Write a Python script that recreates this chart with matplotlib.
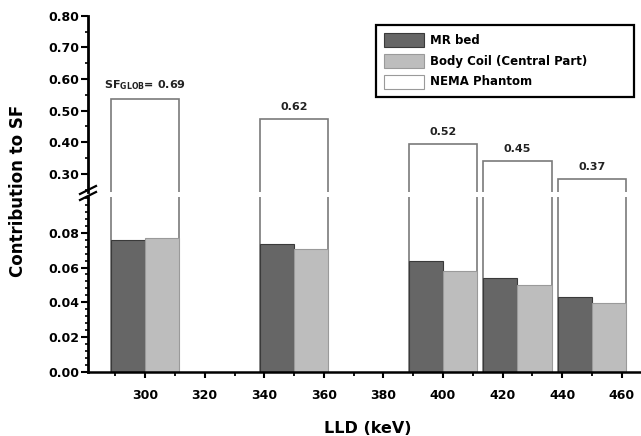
import numpy as np
import matplotlib
matplotlib.use("Agg")
import matplotlib.pyplot as plt
from matplotlib.patches import Patch
from matplotlib.lines import Line2D
from matplotlib.ticker import MultipleLocator, AutoMinorLocator

# data
lld = [300, 350, 400, 425, 450]
mr_bed = [0.0758, 0.0733, 0.0638, 0.0540, 0.0431]
body_coil = [0.0768, 0.0705, 0.0580, 0.0498, 0.0396]
nema = [0.538, 0.474, 0.394, 0.340, 0.284]
sf_glob = ["0.69", "0.62", "0.52", "0.45", "0.37"]
xticks = [300, 320, 340, 360, 380, 400, 420, 440, 460]

dark = "#666666"
light = "#bdbdbd"
edge = "#7a7a7a"

plt.rcParams['font.family'] = 'DejaVu Sans'
plt.rcParams['font.weight'] = 'bold'
plt.rcParams['mathtext.default'] = 'regular'

W, H = 641, 436
fig = plt.figure(figsize=(W / 100, H / 100), dpi=100)

def px(x0, y0, x1, y1):
    return [x0 / W, 1 - y1 / H, (x1 - x0) / W, (y1 - y0) / H]

ax_top = fig.add_axes(px(88, 15.7, 641, 192))
ax_bot = fig.add_axes(px(88, 197, 641, 372))

bw = 11.5
x = np.array(lld, dtype=float)
for ax in (ax_top, ax_bot):
    ax.bar(x, nema, width=2 * bw, color="white", edgecolor=edge, linewidth=1.2, zorder=1)
    ax.bar(x - bw / 2, mr_bed, width=bw, color=dark, edgecolor="#3a3a3a", linewidth=0.8, zorder=2)
    ax.bar(x + bw / 2, body_coil, width=bw, color=light, edgecolor="#9a9a9a", linewidth=0.8, zorder=2)
    ax.set_xlim(280.8, 466.5)
    for s in ("top", "right"):
        ax.spines[s].set_visible(False)
    ax.spines["left"].set_linewidth(2.0)

ax_top.set_ylim(0.243, 0.80)
ax_bot.set_ylim(0, 0.1005)

ax_top.spines["bottom"].set_visible(False)
ax_top.set_xticks([])
ax_top.yaxis.set_minor_locator(AutoMinorLocator(2))
ax_top.set_yticks([0.3, 0.4, 0.5, 0.6, 0.7, 0.8])
ax_top.set_yticklabels(["%.2f" % v for v in [0.3, 0.4, 0.5, 0.6, 0.7, 0.8]])

ax_bot.set_yticks([0, 0.02, 0.04, 0.06, 0.08])
ax_bot.set_yticklabels(["%.2f" % v for v in [0, 0.02, 0.04, 0.06, 0.08]])
ax_bot.yaxis.set_minor_locator(AutoMinorLocator(5))
ax_bot.set_xticks(xticks)
ax_bot.set_xticklabels([str(v) for v in xticks])
ax_bot.xaxis.set_minor_locator(MultipleLocator(10))
ax_bot.spines["bottom"].set_linewidth(1.8)

for ax in (ax_top, ax_bot):
    ax.tick_params(axis="y", which="major", direction="out", length=5, width=1.5,
                   pad=1.5, labelsize=9)
    ax.tick_params(axis="y", which="minor", direction="out", length=2.5, width=1.2)
ax_bot.tick_params(axis="x", which="major", direction="out", length=4, width=1.5,
                   pad=8, labelsize=9)
ax_bot.tick_params(axis="x", which="minor", direction="out", length=3, width=1.3)

# total SF labels
for i, (xi, v, s) in enumerate(zip(x, nema, sf_glob)):
    txt = r"SF$_{GLOB}$= " + s if i == 0 else s
    ax_top.text(xi, v + 0.022, txt, ha="center", va="bottom", fontsize=8,
                fontweight="bold", color="#222222")

# axis break marks
for dy in (-3, 3):
    y0 = 193 + dy
    fig.add_artist(Line2D([80 / W, 96 / W], [1 - (y0 + 4) / H, 1 - (y0 - 4) / H],
                          color="black", linewidth=1.6))

handles = [Patch(facecolor=dark, edgecolor="#3a3a3a", linewidth=0.8),
           Patch(facecolor=light, edgecolor="#9a9a9a", linewidth=0.8),
           Patch(facecolor="white", edgecolor="#9a9a9a", linewidth=0.8)]
labels = ["MR bed", "Body Coil (Central Part)", "NEMA Phantom"]
leg = fig.legend(handles, labels, loc="upper left", mode="expand",
                 bbox_to_anchor=px(376, 25, 634, 94.3), bbox_transform=fig.transFigure,
                 fontsize=8.5, frameon=True, fancybox=False, framealpha=1,
                 handlelength=3.4, handleheight=1.45, handletextpad=0.5,
                 labelspacing=0.56, borderpad=0.7, borderaxespad=0)
leg.get_frame().set_edgecolor("black")
leg.get_frame().set_linewidth(1.6)

fig.text(18 / W, 1 - 191 / H, "Contribution to SF", rotation=90, ha="center",
         va="center", fontsize=12, fontweight="bold")
fig.text(368 / W, 1 - 428 / H, "LLD (keV)", ha="center", va="center",
         fontsize=11.5, fontweight="bold")

fig.savefig("out.png", dpi=100)
